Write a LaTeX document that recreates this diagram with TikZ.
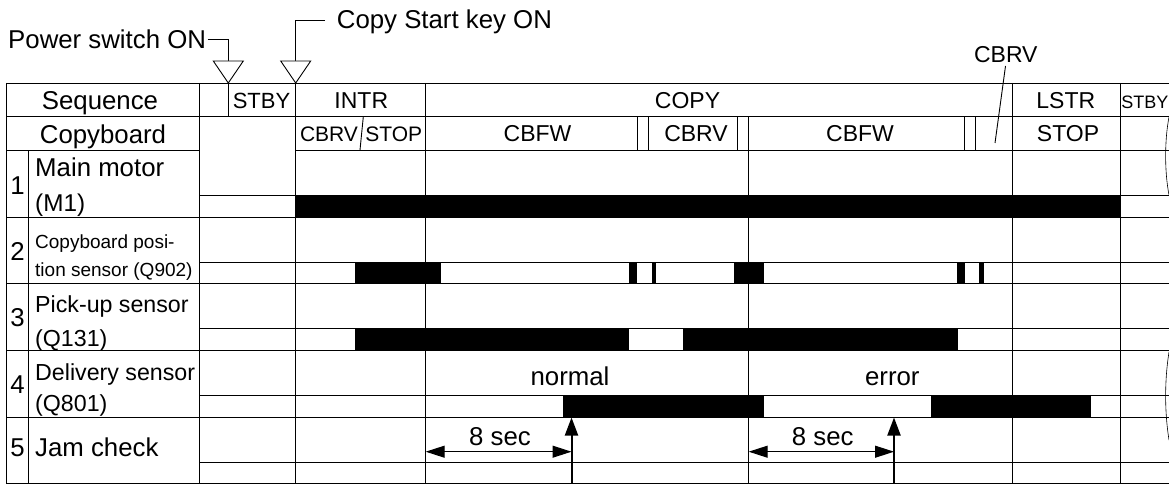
\documentclass[tikz,border=0pt]{standalone}
\usepackage{fontspec}
\setmainfont{Liberation Sans}
\usetikzlibrary{arrows.meta}
\begin{document}
\begin{tikzpicture}[x=1pt,y=-1pt,
  gridline/.style={line width=0.9pt,draw=black},
  barfill/.style={fill=black,draw=none},
  lbl/.style={inner sep=0pt,font=\fontsize{25.8}{30}\selectfont},
  lblm/.style={inner sep=0pt,font=\fontsize{23.2}{27}\selectfont},
  hdr/.style={inner sep=0pt,font=\fontsize{23}{26}\selectfont},
  hdrs/.style={inner sep=0pt,font=\fontsize{21}{24}\selectfont},
  lbls/.style={inner sep=0pt,font=\fontsize{19}{22}\selectfont},
  lblt/.style={inner sep=0pt,font=\fontsize{18}{21}\selectfont},
  dimline/.style={line width=1pt,{Triangle[length=19pt,width=12pt]}-{Triangle[length=19pt,width=12pt]}},
  jamarrow/.style={line width=2pt,-{Triangle[length=18pt,width=13pt]}},
  marker/.style={line width=0.9pt,fill=white}
]
\useasboundingbox (0,0) rectangle (1169,484);

% ---------- grid ----------
\foreach \yy in {83,116.7,217,283.3,350.7,417,483.5}
  \draw[gridline] (6,\yy) -- (1169,\yy);
\draw[gridline] (6,150) -- (199.5,150);
\draw[gridline] (295.7,150) -- (1169,150);
\foreach \yy in {195,262,328.3,395,462.3}
  \draw[gridline] (199.5,\yy) -- (1169,\yy);
\draw[gridline] (6,83) -- (6,483.5);
\draw[gridline] (28.5,150) -- (28.5,483.5);
\draw[gridline] (199.5,83) -- (199.5,483.5);
\draw[gridline] (228.3,83) -- (228.3,116.7);
\draw[gridline] (295.7,83) -- (295.7,483.5);
\draw[gridline] (425.7,83) -- (425.7,483.5);
\draw[gridline] (748.7,116.7) -- (748.7,483.5);
\draw[gridline] (1012.3,83) -- (1012.3,483.5);
\draw[gridline] (1120,83) -- (1120,483.5);
\foreach \xx in {637.7,648.7,737.7,964.3,975}
  \draw[gridline] (\xx,116.7) -- (\xx,150);
\draw[gridline] (363.3,116.7) -- (360,150);
\draw[line width=0.6pt] (1169,117) .. controls (1164.5,140) and (1164.5,172) .. (1169,195);
\draw[line width=0.6pt] (1169,352) .. controls (1164.5,380) and (1164.5,412) .. (1169,440);

% ---------- bars ----------
\fill[barfill] (295.7,195) rectangle (1120,217);
\foreach \a/\b in {355/441,629.3/637,652.3/656.3,734/764,956.7/965,979/983.7}
  \fill[barfill] (\a,262) rectangle (\b,283.3);
\foreach \a/\b in {355/629.3,682.7/957.7}
  \fill[barfill] (\a,328.3) rectangle (\b,350.7);
\foreach \a/\b in {563/764,931/1091}
  \fill[barfill] (\a,395) rectangle (\b,417);

% ---------- top markers ----------
\node[lbl,anchor=base west] (pwr) at (8,48.3) {Power switch ON};
\node[lbl,anchor=base west] (cpy) at (336.7,28.3) {Copy Start key ON};
\coordinate (pwrtip) at (228.3,83);
\coordinate (pwrtop) at (228.3,61);
\coordinate (cpytip) at (295.7,83);
\coordinate (cpytop) at (295.7,61);
\draw[line width=0.9pt] (pwr.east |- 0,39.3) ++(1.5,0) -| (pwrtop);
\draw[line width=0.9pt] (325,20) -| (cpytop);
\draw[marker] (213.3,61) -- (243.3,61) -- (pwrtip) -- cycle;
\draw[marker] (280.7,61) -- (310.7,61) -- (cpytip) -- cycle;

\node[hdr,anchor=base] (cbrvtop) at (1005.8,62.7) {CBRV};
\coordinate (cbrvend) at (995,143);
\draw[line width=0.9pt] (1005.5,66) -- (cbrvend);

% ---------- header rows ----------
\node[lbl,anchor=base] (seq) at (100,110) {Sequence};
\node[lbl,anchor=base] (cbd) at (103,143.3) {Copyboard};
\node[inner sep=0pt,font=\fontsize{22}{25}\selectfont,anchor=base] (stby1) at (261.5,109) {STBY};
\node[hdr,anchor=base] (intr) at (361.3,108.3) {INTR};
\node[hdr,anchor=base] (copy) at (687.5,108.3) {COPY};
\node[hdr,anchor=base] (lstr) at (1065.8,108.3) {LSTR};
\node[lblt,anchor=base] (stby2) at (1144.8,108.3) {STBY};

\node[hdrs,anchor=base] (cbrv1) at (329,141.7) {CBRV};
\node[hdrs,anchor=base] (stop1) at (393.8,141.7) {STOP};
\node[hdr,anchor=base] (cbfw1) at (537.5,141.7) {CBFW};
\node[hdr,anchor=base] (cbrv2) at (696,141.7) {CBRV};
\node[hdr,anchor=base] (cbfw2) at (860,141.7) {CBFW};
\node[hdr,anchor=base] (stop2) at (1068,141.7) {STOP};

% ---------- row labels ----------
\node[lbl,anchor=base] (n1) at (17.5,194) {1};
\node[lbl,anchor=base west] (r1a) at (35,176.7) {Main motor};
\node[inner sep=0pt,font=\fontsize{24.3}{28}\selectfont,anchor=base west] (r1b) at (35,211.7) {(M1)};
\node[lbl,anchor=base] (n2) at (17.5,260) {2};
\node[lbls,anchor=base west] (r2a) at (35,248.3) {Copyboard posi-};
\node[lbls,anchor=base west] (r2b) at (35,276.7) {tion sensor (Q902)};
\node[lbl,anchor=base] (n3) at (17.5,326.7) {3};
\node[lblm,anchor=base west] (r3a) at (35,312) {Pick-up sensor};
\node[lblm,anchor=base west] (r3b) at (35,346) {(Q131)};
\node[lbl,anchor=base] (n4) at (17.5,393.3) {4};
\node[lblm,anchor=base west] (r4a) at (35,380) {Delivery sensor};
\node[lblm,anchor=base west] (r4b) at (35,411.7) {(Q801)};
\node[lbl,anchor=base] (n5) at (17.5,456.7) {5};
\node[lbl,anchor=base west] (r5a) at (35,456.7) {Jam check};

% ---------- delivery labels ----------
\node[lbl,anchor=base] (normal) at (570,385) {normal};
\node[lbl,anchor=base] (error) at (892.3,385) {error};

% ---------- jam check ----------
\coordinate (d1a) at (425.7,451.7);
\coordinate (d1b) at (571.5,451.7);
\coordinate (d2a) at (748.7,451.7);
\coordinate (d2b) at (894,451.7);
\coordinate (j1bot) at (571.5,484);
\coordinate (j1top) at (571.5,417.5);
\coordinate (j2bot) at (894,484);
\coordinate (j2top) at (894,417.5);
\draw[dimline] (d1a) -- (d1b);
\draw[dimline] (d2a) -- (d2b);
\draw[jamarrow] (j1bot) -- (j1top);
\draw[jamarrow] (j2bot) -- (j2top);
\node[lbl,anchor=base] (sec1) at (500,445.7) {8 sec};
\node[lbl,anchor=base] (sec2) at (822.7,445.7) {8 sec};
\end{tikzpicture}
\end{document}
